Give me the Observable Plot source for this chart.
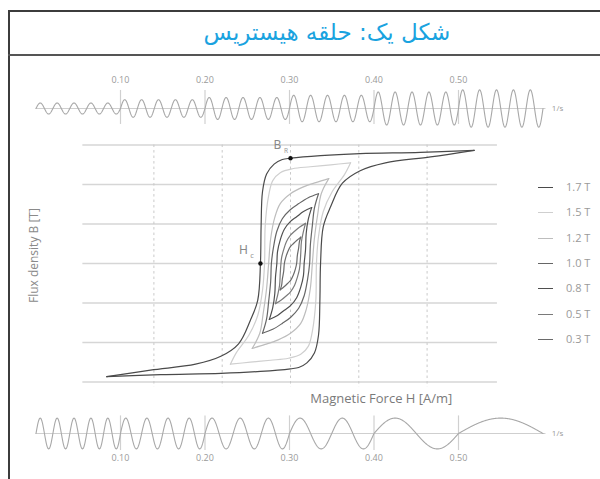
<!DOCTYPE html>
<html>
<head>
<meta charset="utf-8">
<script src="https://cdn.jsdelivr.net/npm/d3@7"></script>
<script src="https://cdn.jsdelivr.net/npm/@observablehq/plot@0.6"></script>
<style>
  html, body { margin: 0; padding: 0; background: #fff; }
  #root { position: relative; width: 600px; height: 479px; overflow: hidden; background: #fff; font-family: "Open Sans", Lato, sans-serif; }
  .abs { position: absolute; }
  #frame { left: 8px; top: 10px; width: 700px; height: 600px; border-left: 2px solid #3c3c3c; border-top: 2px solid #3c3c3c; }
  #sep { left: 8px; top: 54px; width: 700px; border-top: 2px solid #555; }
  #title { left: 54px; top: 10px; width: 546px; height: 45px; line-height: 45px; text-align: center; direction: rtl;
           font-family: "DejaVu Sans", sans-serif; font-size: 23px; color: #1aa3df; }
  .legend-item { position: absolute; left: 538px; height: 14px; font-size: 11px; color: #9a9a9a; }
  .legend-item span.sw { position: absolute; left: 0; top: 7px; width: 15px; height: 0; border-top: 1.6px solid #555; }
  .legend-item span.lb { position: absolute; left: 28px; top: -1px; white-space: nowrap; }
</style>
</head>
<body>
<div id="root">
  <div id="frame" class="abs"></div>
  <div id="sep" class="abs"></div>
  <div id="title" class="abs"></div>
  <div id="top" class="abs" style="left:0;top:60px;"></div>
  <div id="main" class="abs" style="left:0;top:130px;"></div>
  <div id="bottom" class="abs" style="left:0;top:405px;"></div>
  <div id="legend"></div>
</div>
<script>
// ---------- data ----------
const titleText = "شکل یک: حلقه هیستریس";
const timeTicks = [0.1, 0.2, 0.3, 0.4, 0.5];
const timeTickLabels = ["0.10", "0.20", "0.30", "0.40", "0.50"];
const segmentStarts = [0, 0.1, 0.2, 0.3, 0.4, 0.5];
const topFrequency = 50;                       // Hz, constant
const topAmplitudes = [0.5, 0.8, 1.0, 1.2, 1.5, 1.7];
const bottomFrequencies = [50, 40, 30, 20, 10, 5];
const bottomAmplitude = 1.4;
const hGrid = [-200, -100, 0, 100, 200];       // A/m
const bGrid = [-1.8, -1.2, -0.6, 0, 0.6, 1.2, 1.8]; // T
const legendLabels = ["1.7 T", "1.5 T", "1.2 T", "1.0 T", "0.8 T", "0.5 T", "0.3 T"];
const loopColors = ["#4a4a4a", "#cfcfcf", "#bdbdbd", "#666666", "#4f4f4f", "#7a7a7a", "#6a6a6a"];

// upper (descending) branch of each loop, [H (A/m), B (T)]
const loop17 = [[269,1.72],[190,1.69],[102,1.67],[44,1.64],[0,1.60],[-12,1.58],[-24,1.51],[-35,1.36],[-41,1.09],[-43,0.58],[-44,0],[-48,-0.56],[-59,-0.87],[-76,-1.22],[-102,-1.41],[-139,-1.53],[-205,-1.62],[-269,-1.72]];
const loop15 = [[88,1.53],[59,1.50],[29,1.47],[3,1.44],[-15,1.38],[-26,1.26],[-32,1.03],[-37,0.58],[-38,0],[-41,-0.41],[-48,-0.79],[-61,-1.09],[-79,-1.35],[-88,-1.53]];
const loop12 = [[56,1.29],[37,1.23],[18,1.16],[0,1.06],[-15,0.91],[-23,0.70],[-29,0.38],[-32,0],[-35,-0.38],[-40,-0.76],[-45,-1.06],[-56,-1.29]];
const loop10 = [[41,1.06],[26,1.00],[12,0.91],[0,0.82],[-12,0.68],[-20,0.49],[-25,0.24],[-28,0],[-29,-0.27],[-32,-0.58],[-35,-0.84],[-41,-1.06]];
const loop08 = [[31,0.85],[19,0.79],[9,0.71],[0,0.64],[-9,0.52],[-15,0.36],[-19,0.18],[-20,0],[-22,-0.21],[-23,-0.46],[-26,-0.67],[-31,-0.85]];
const loop05 = [[22,0.61],[13,0.55],[6,0.49],[0,0.43],[-6,0.33],[-10,0.21],[-13,0.09],[-14,0],[-15,-0.15],[-16,-0.33],[-19,-0.49],[-22,-0.61]];
const loop03 = [[15,0.40],[9,0.35],[3,0.29],[0,0.26],[-4,0.18],[-7,0.09],[-9,0],[-10,-0.12],[-12,-0.24],[-13,-0.33],[-15,-0.40]];
const loops = [loop17, loop15, loop12, loop10, loop08, loop05, loop03];
const remanence = [0, 1.60];
const coercivity = [-44, 0];

// ---------- helpers ----------
document.getElementById("title").textContent = titleText;

function waveSamples(freqOf, ampOf) {
  const pts = [];
  const n = 1500;
  for (let i = 0; i <= n; i++) {
    const t = 0.6 * i / n;
    let k = Math.min(segmentStarts.length - 1, Math.floor(t / 0.1 + 1e-9));
    const t0 = segmentStarts[k];
    pts.push({t, v: ampOf(k) * Math.sin(2 * Math.PI * freqOf(k) * (t - t0))});
  }
  return pts;
}
const topWave = waveSamples(() => topFrequency, k => topAmplitudes[k]);
const bottomWave = waveSamples(k => bottomFrequencies[k], () => bottomAmplitude);

const lightText = {fill: "#9a9a9a", fontFamily: "Open Sans, sans-serif"};

function wavePlot(data, axisY, labelAbove) {
  const s = 11; // px per unit
  return Plot.plot({
    width: 600, height: labelAbove ? 75 : 70,
    x: {domain: [0, 0.6], range: [35.5, 542.5], axis: null},
    y: {domain: [-3, 3], range: [axisY + 3 * s, axisY - 3 * s], axis: null},
    marks: [
      Plot.ruleY([0], {x1: 0, x2: 0.6035, stroke: "#cfcfcf", strokeWidth: 1.2}),
      Plot.ruleX(timeTicks, {y1: labelAbove ? 1.64 : 1.6, y2: labelAbove ? -1.45 : -1.55, stroke: "#d0d0d0", strokeWidth: 1.2}),
      Plot.line(data, {x: "t", y: "v", stroke: "#a8a8a8", strokeWidth: 1.1}),
      Plot.text(timeTicks, {x: d => d, y: labelAbove ? 2.55 : -2.27, text: (d, i) => timeTickLabels[i], fontSize: 9, ...lightText}),
      Plot.text(["1/s"], {x: 0.6105, y: 0, text: d => d, textAnchor: "start", fontSize: 8, ...lightText})
    ]
  });
}
document.getElementById("top").append(wavePlot(topWave, 48, true));
document.getElementById("bottom").append(wavePlot(bottomWave, 28, false));

// ---------- main hysteresis plot ----------
const loopMarks = [];
loops.forEach((pts, i) => {
  const lower = pts.map(([h, b]) => [-h, -b]);
  const opts = {x: d => d[0], y: d => d[1], curve: "catmull-rom", stroke: loopColors[i], strokeWidth: 1.2};
  loopMarks.push(Plot.line(pts, opts), Plot.line(lower, opts));
});

const main = Plot.plot({
  width: 600, height: 280,
  x: {domain: [-300, 300], range: [290 - 204.9, 290 + 204.9], axis: null},
  y: {domain: [-2, 2], range: [133 + 131.6, 133 - 131.6], axis: null},
  marks: [
    Plot.ruleY(bGrid, {x1: -304, x2: 303, stroke: "#d6d6d6", strokeWidth: 1.6}),
    Plot.ruleX(hGrid, {y1: 1.8, y2: -1.88, stroke: "#c9c9c9", strokeWidth: 1, strokeDasharray: "2.5,3"}),
    ...loopMarks,
    Plot.dot([remanence, coercivity], {x: d => d[0], y: d => d[1], r: 2.2, fill: "#111", stroke: null}),
    Plot.text([remanence], {x: d => d[0], y: d => d[1], text: () => "B", dx: -13, dy: -13, fontSize: 12, fill: "#888"}),
    Plot.text([remanence], {x: d => d[0], y: d => d[1], text: () => "R", dx: -4.5, dy: -7, fontSize: 6.5, fill: "#999"}),
    Plot.text([coercivity], {x: d => d[0], y: d => d[1], text: () => "H", dx: -17, dy: -13, fontSize: 12, fill: "#888"}),
    Plot.text([coercivity], {x: d => d[0], y: d => d[1], text: () => "c", dx: -8.5, dy: -7.5, fontSize: 7.5, fill: "#999"}),
    Plot.text(["Magnetic Force H [A/m]"], {x: 29, y: -2.06, text: d => d, textAnchor: "start", fontSize: 13, fill: "#7a7a7a", fontFamily: "Open Sans, sans-serif"}),
    Plot.text(["Flux density B [T]"], {x: -376, y: 0.12, text: d => d, rotate: -90, fontSize: 12, fill: "#8a8a8a", fontFamily: "Open Sans, sans-serif"})
  ]
});
document.getElementById("main").append(main);

// ---------- legend ----------
const legend = document.getElementById("legend");
legendLabels.forEach((lab, i) => {
  const item = document.createElement("div");
  item.className = "legend-item";
  item.style.top = (180 + i * 25.3) + "px";
  item.innerHTML = `<span class="sw" style="border-top-color:${loopColors[i]}"></span><span class="lb">${lab}</span>`;
  legend.append(item);
});
</script>
</body>
</html>
